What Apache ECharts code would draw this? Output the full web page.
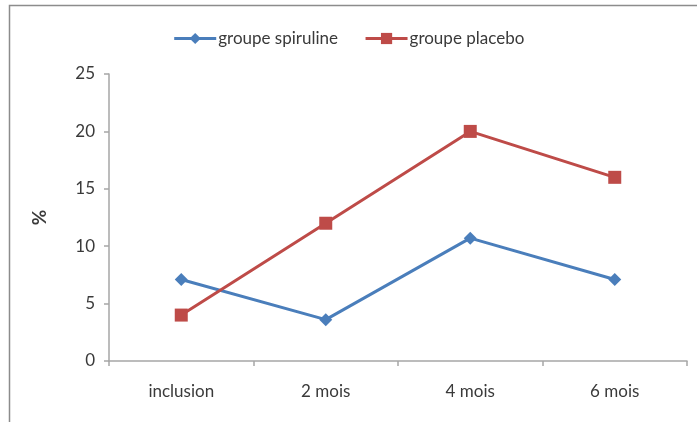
<!DOCTYPE html>
<html>
<head>
<meta charset="utf-8">
<script src="https://cdn.jsdelivr.net/npm/echarts@6/dist/echarts.min.js"></script>
<style>
  html, body { margin: 0; padding: 0; background: #ffffff; }
  #chart { width: 697px; height: 422px; }
</style>
</head>
<body>
<div id="chart"></div>
<script>
// Time points of the follow-up
const categories = ['inclusion', '2 mois', '4 mois', '6 mois'];
// Percentages per group
const spirulineValues = [7.1, 3.6, 10.7, 7.1];
const placeboValues = [4, 12, 20, 16];
const seriesNames = ['groupe spiruline', 'groupe placebo'];

const chart = echarts.init(document.getElementById('chart'), null, { renderer: 'canvas' });
const textColor = '#3a3a3a';
const axisColor = '#a6a6a6';
const font = 'Lato, "Open Sans", sans-serif';

chart.setOption({
  animation: false,
  backgroundColor: '#ffffff',
  graphic: [{
    type: 'rect',
    shape: { x: 9.5, y: 5.5, width: 700, height: 430 },
    style: { fill: 'none', stroke: '#8c8c8c', lineWidth: 1.5 },
    silent: true
  }],
  legend: {
    top: 25,
    left: 'center',
    itemGap: 26,
    itemWidth: 42,
    itemHeight: 14,
    lineStyle: { width: 3 },
    textStyle: { fontFamily: font, fontSize: 17, color: textColor, padding: [0, 0, 0, -3] },
    data: seriesNames
  },
  grid: { left: 109, right: 10, top: 74, bottom: 61, containLabel: false },
  xAxis: {
    type: 'category',
    data: categories,
    boundaryGap: true,
    axisLine: { lineStyle: { color: axisColor, width: 1.5 } },
    axisTick: { show: true, alignWithLabel: false, length: 5, lineStyle: { color: axisColor, width: 1.5 } },
    axisLabel: { fontFamily: font, fontSize: 17, color: textColor, margin: 22 },
    splitLine: { show: false }
  },
  yAxis: {
    type: 'value',
    min: 0,
    max: 25,
    interval: 5,
    name: '%',
    nameLocation: 'middle',
    nameGap: 60,
    nameRotate: 90,
    nameTextStyle: { fontFamily: font, fontSize: 19, color: textColor, fontWeight: 'bold' },
    axisLine: { show: true, lineStyle: { color: axisColor, width: 1.5 } },
    axisTick: { show: true, length: 5, lineStyle: { color: axisColor, width: 1.5 } },
    axisLabel: { fontFamily: font, fontSize: 17, color: textColor, margin: 14 },
    splitLine: { show: false }
  },
  series: [
    {
      name: seriesNames[0],
      type: 'line',
      data: spirulineValues,
      symbol: 'diamond',
      symbolSize: 13,
      lineStyle: { color: '#4a7ebb', width: 3 },
      itemStyle: { color: '#4a7ebb' }
    },
    {
      name: seriesNames[1],
      type: 'line',
      data: placeboValues,
      symbol: 'rect',
      symbolSize: 13,
      lineStyle: { color: '#be4b48', width: 3 },
      itemStyle: { color: '#be4b48' }
    }
  ]
});
</script>
</body>
</html>
